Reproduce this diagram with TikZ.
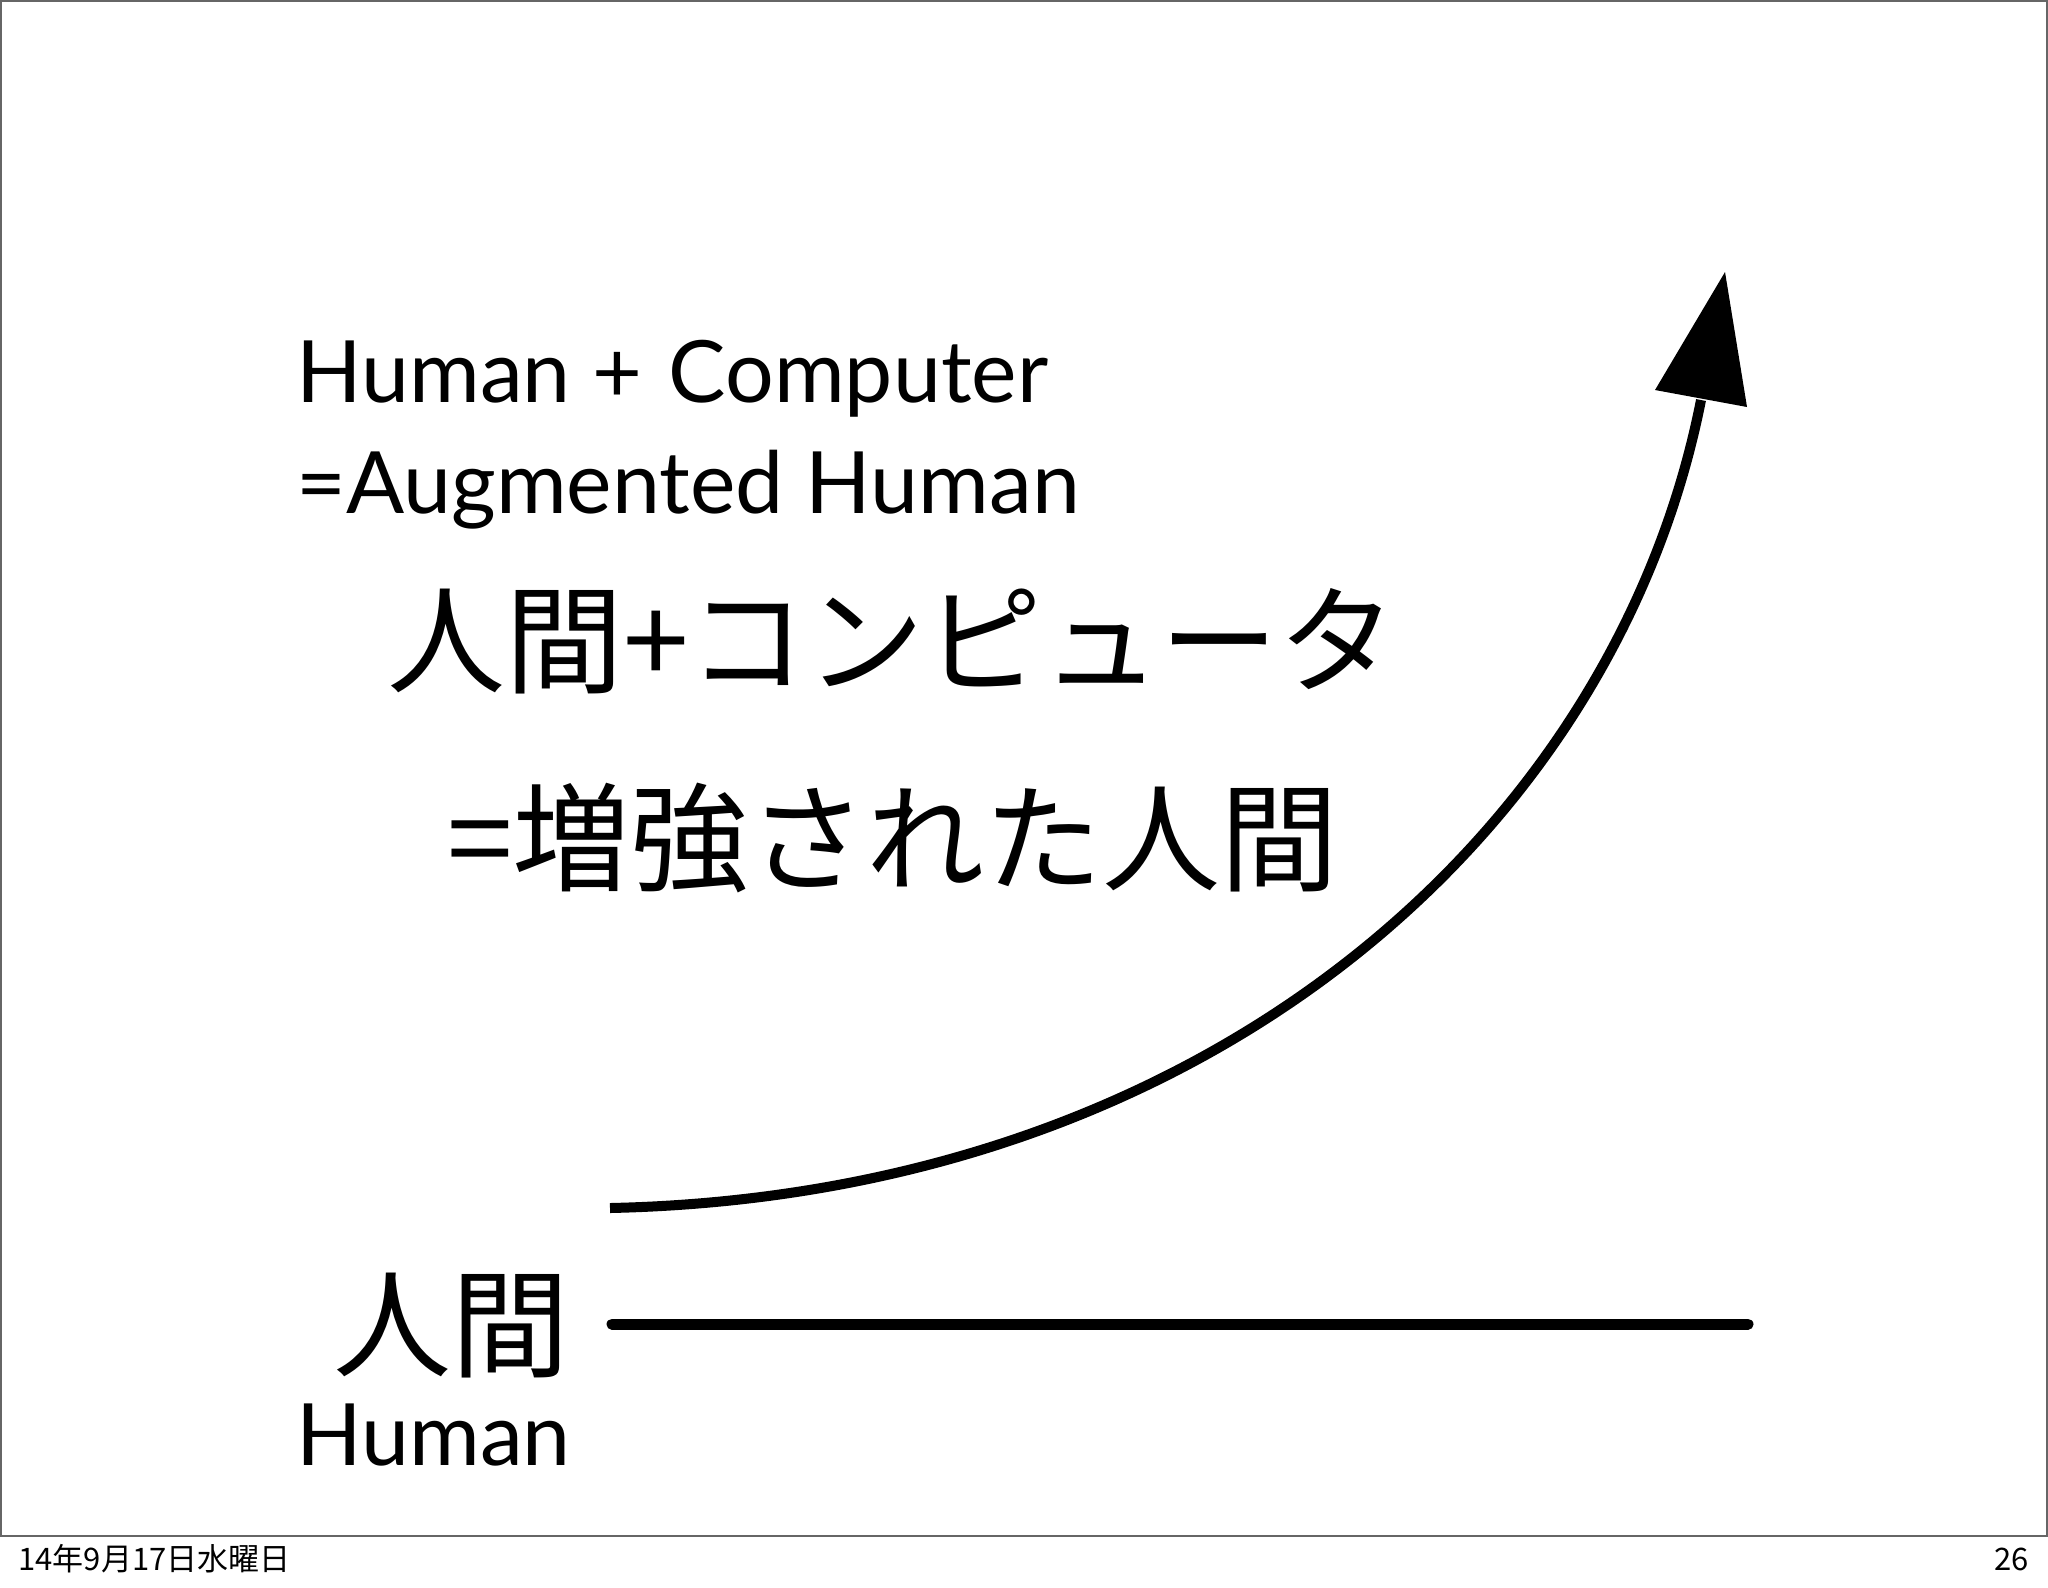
\documentclass[tikz,border=0pt]{standalone}
\usepackage{fontspec}
\newfontfamily\latin{Lato}
\newfontfamily\jp{Noto Sans CJK JP}
\begin{document}
\begin{tikzpicture}[x=0.5pt,y=-0.5pt,
  entext/.style={inner sep=0pt,font=\latin\fontsize{43pt}{50pt}\selectfont},
  jptext/.style={inner sep=0pt,font=\jp\fontsize{59pt}{70pt}\selectfont},
  foot/.style={inner sep=0pt,font=\jp\fontsize{15.5pt}{18pt}\selectfont},
  curve line/.style={line width=5pt,line cap=butt},
  flat line/.style={line width=5.5pt,line cap=round},
  frame/.style={draw=black!60,line width=1.2pt}]
\useasboundingbox (0,0) rectangle (2048,1587);
\fill[white] (0,0) rectangle (2048,1587);
\draw[frame] (1,1) rectangle (2047,1536);
% English texts
\node[entext,anchor=base west] (t1) at (296,402) {Human + \hspace{2pt}Computer};
\node[entext,anchor=base west] (t2) at (296,513) {=Augmented Human};
% Japanese texts
\node[jptext,anchor=base] (j1) at (892,684) {人間+コンピュータ};
\node[jptext,anchor=base] (j2) at (893,882) {=増強された人間};
\node[jptext,anchor=base] (hj) at (451,1368) {人間};
\node[entext,anchor=base west] (he) at (296,1465) {Human};
% curve with arrow
\coordinate (c0) at (610,1208);
\coordinate (c1) at (1701,400);
\coordinate (tip) at (1725,272);
\coordinate (wl) at (1655,390);
\coordinate (wr) at (1747,407);
\draw[curve line] (c0) .. controls (1210,1195) and (1616,830) .. (c1);
\fill (tip) -- (wl) -- (wr) -- cycle;
% straight line
\coordinate (l0) at (612,1324);
\coordinate (l1) at (1748,1324);
\draw[flat line] (l0) -- (l1);
% footer
\node[foot,anchor=base west] (fl) at (18,1570) {14年9月17日水曜日};
\node[foot,anchor=base east] (fr) at (2029,1570) {26};
\end{tikzpicture}
\end{document}
